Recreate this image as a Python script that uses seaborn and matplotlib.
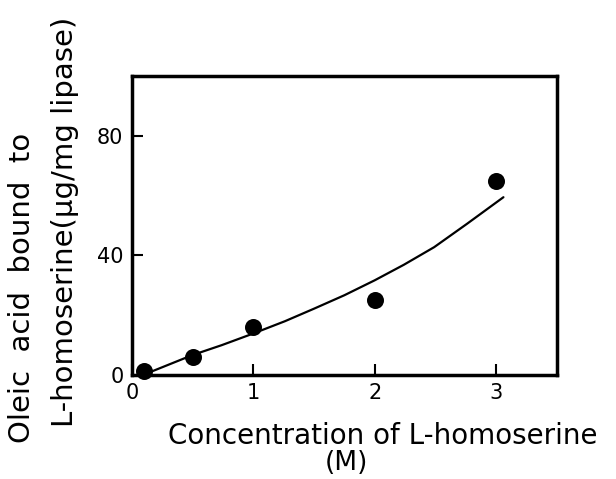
import matplotlib
matplotlib.use("Agg")
import matplotlib.pyplot as plt
import seaborn as sns
import pandas as pd

# Measured data points
conc = [0.1, 0.5, 1.0, 2.0, 3.0]
bound = [1.5, 6.1, 16.1, 25.0, 65.0]

# Fitted curve
curve_x = [0.17, 0.5, 0.74, 1.0, 1.26, 1.5, 1.75, 2.0, 2.24, 2.49, 2.76, 3.06]
curve_y = [1.3, 6.7, 10.0, 13.9, 18.0, 22.2, 26.7, 31.7, 36.9, 42.8, 50.6, 59.5]

x_ticks = [0, 1, 2, 3]
y_ticks = [0, 40, 80]

sns.set_style("ticks")
plt.rcParams['font.family'] = ['DejaVu Sans']
plt.rcParams['text.color'] = 'black'

fig = plt.figure(figsize=(6.16, 4.79), dpi=100)
ax = fig.add_axes([0.214, 0.217, 0.690, 0.624])

pts = pd.DataFrame({"x": conc, "y": bound})
cur = pd.DataFrame({"x": curve_x, "y": curve_y})

sns.lineplot(data=cur, x="x", y="y", ax=ax, color="black", linewidth=1.6,
             estimator=None, sort=True)
sns.scatterplot(data=pts, x="x", y="y", ax=ax, color="black", s=150,
                edgecolor="black", linewidth=0, zorder=3, clip_on=False)

ax.set_xlim(0, 3.5)
ax.set_ylim(0, 100)
ax.set_xticks(x_ticks)
ax.set_yticks(y_ticks)
ax.set_xticklabels([str(t) for t in x_ticks])
ax.set_yticklabels([str(t) for t in y_ticks])
ax.tick_params(direction="in", length=8, width=1.5, labelsize=15, colors="black", pad=6)
for s in ax.spines.values():
    s.set_visible(True)
    s.set_linewidth(2.5)
    s.set_color("black")
ax.set_xlabel("")
ax.set_ylabel("")

fig.text(383 / 616, 1 - 436 / 479, "Concentration of L-homoserine",
         ha="center", va="center", fontsize=20, color="black")
fig.text(346 / 616, 1 - 463 / 479, "(M)", ha="center", va="center", fontsize=19,
         color="black")
fig.text(22 / 616, 1 - 443 / 479, "Oleic  acid  bound  to", rotation=90,
         ha="center", va="bottom", fontsize=21, color="black")
fig.text(65 / 616, 1 - 427 / 479, "L-homoserine(\u03bcg/mg lipase)", rotation=90,
         ha="center", va="bottom", fontsize=21, color="black")

fig.savefig("out.png", dpi=100)
